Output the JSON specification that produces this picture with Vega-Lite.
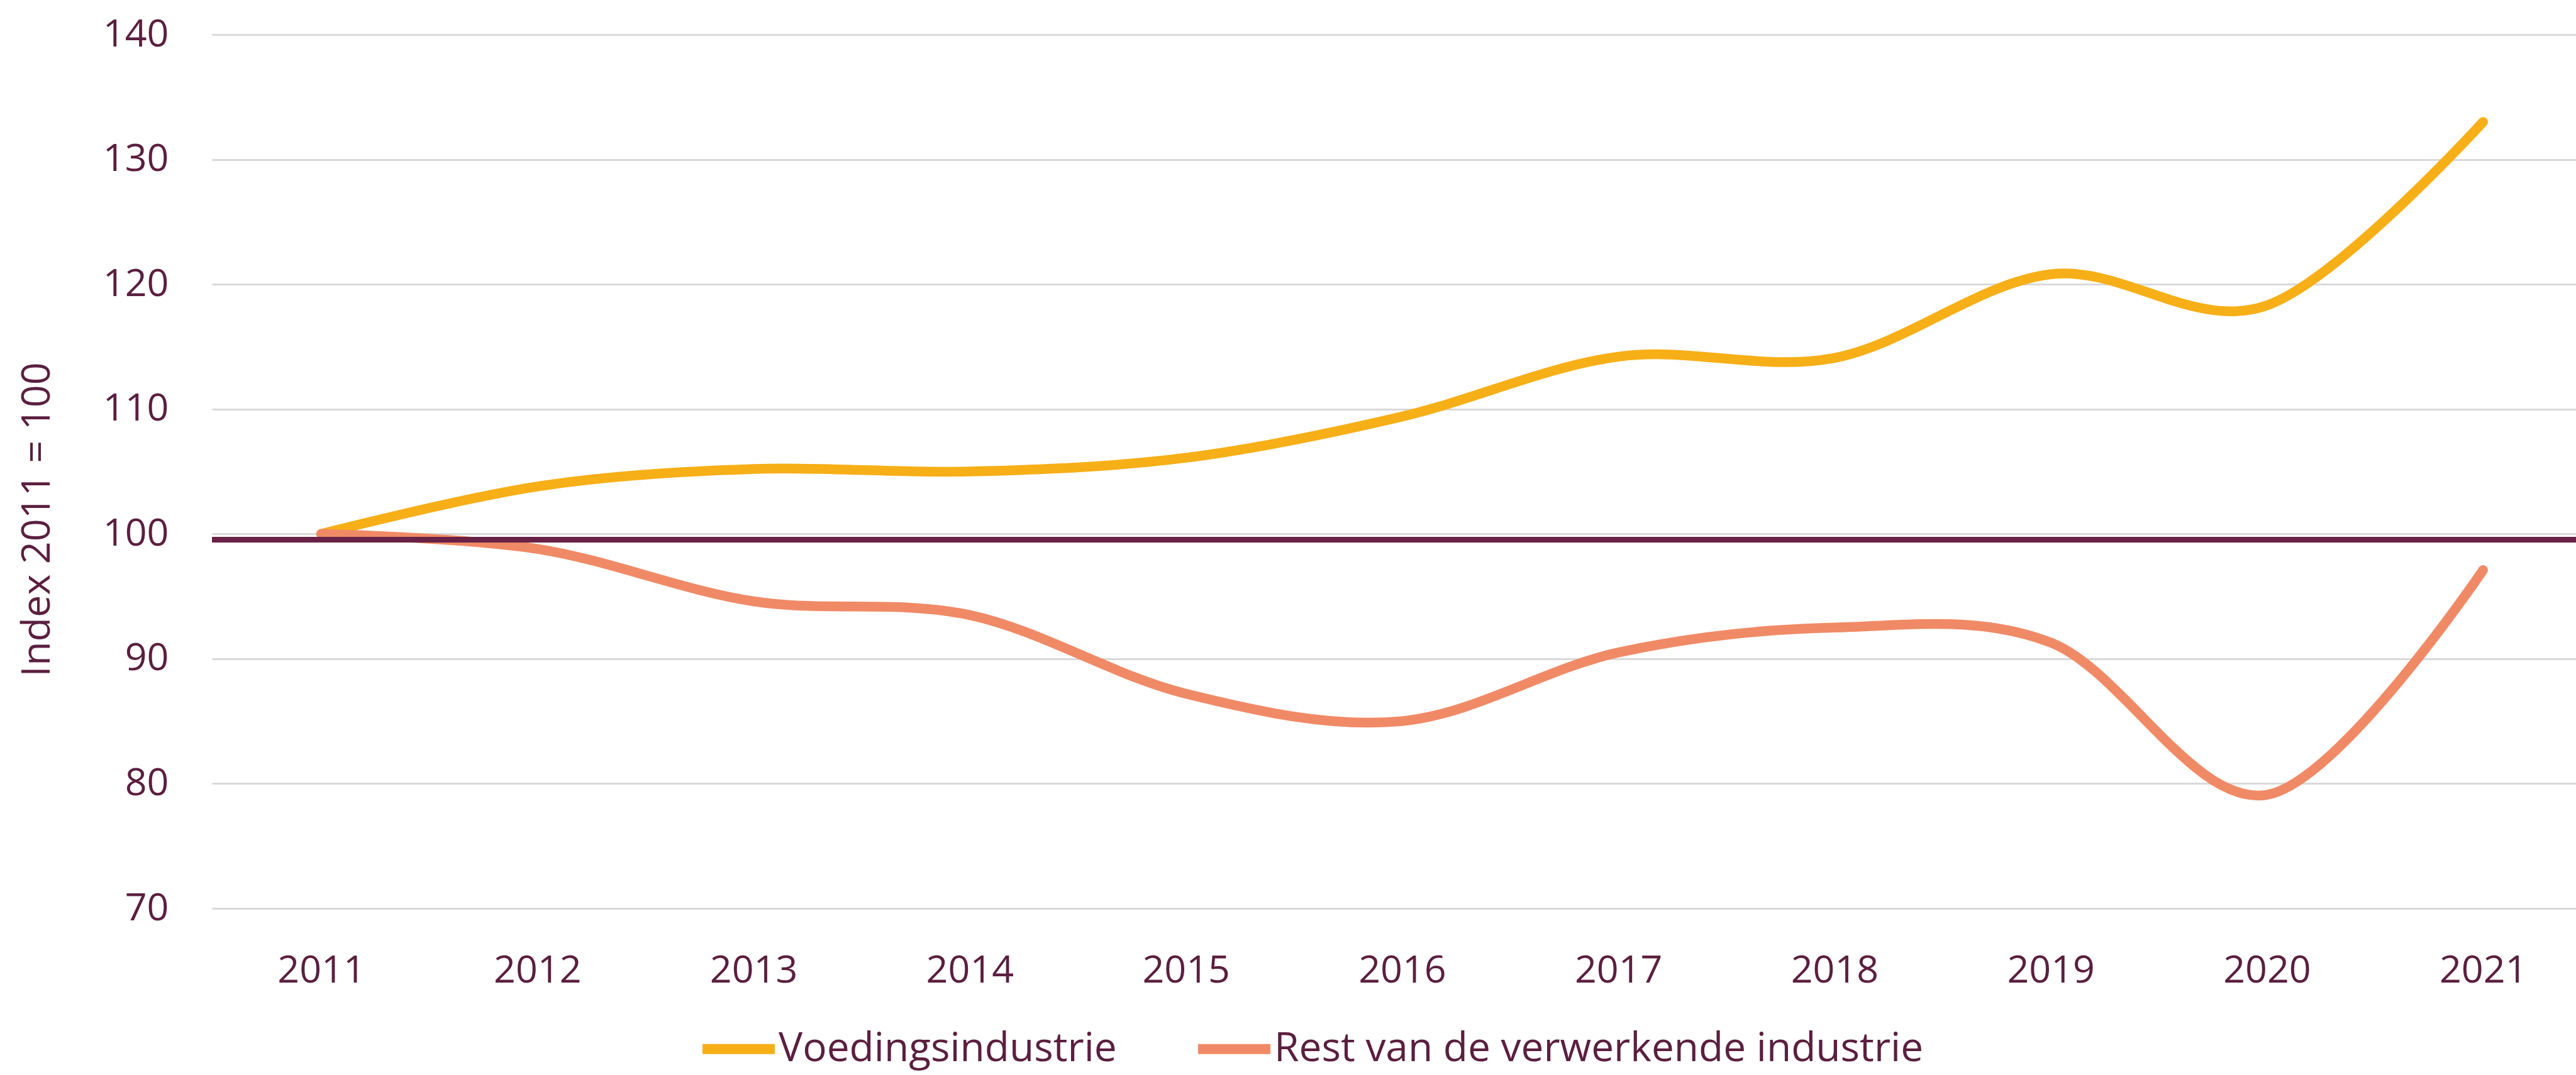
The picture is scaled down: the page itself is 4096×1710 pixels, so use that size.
{
  "$schema": "https://vega.github.io/schema/vega-lite/v6.json",
  "width": 3759,
  "height": 1390,
  "autosize": {"type": "none"},
  "padding": {"left": 337, "top": 55, "right": 0, "bottom": 265},
  "background": "white",
  "config": {"view": {"stroke": null}, "font": "Open Sans"},
  "data": {
    "values": [
      {"year": 2011, "series": "Voedingsindustrie", "index": 100.0},
      {"year": 2012, "series": "Voedingsindustrie", "index": 103.8},
      {"year": 2013, "series": "Voedingsindustrie", "index": 105.2},
      {"year": 2014, "series": "Voedingsindustrie", "index": 105.0},
      {"year": 2015, "series": "Voedingsindustrie", "index": 106.1},
      {"year": 2016, "series": "Voedingsindustrie", "index": 109.4},
      {"year": 2017, "series": "Voedingsindustrie", "index": 114.2},
      {"year": 2018, "series": "Voedingsindustrie", "index": 114.1},
      {"year": 2019, "series": "Voedingsindustrie", "index": 120.8},
      {"year": 2020, "series": "Voedingsindustrie", "index": 118.3},
      {"year": 2021, "series": "Voedingsindustrie", "index": 133.0},
      {"year": 2011, "series": "Rest van de verwerkende industrie", "index": 100.0},
      {"year": 2012, "series": "Rest van de verwerkende industrie", "index": 98.8},
      {"year": 2013, "series": "Rest van de verwerkende industrie", "index": 94.6},
      {"year": 2014, "series": "Rest van de verwerkende industrie", "index": 93.5},
      {"year": 2015, "series": "Rest van de verwerkende industrie", "index": 87.2},
      {"year": 2016, "series": "Rest van de verwerkende industrie", "index": 85.0},
      {"year": 2017, "series": "Rest van de verwerkende industrie", "index": 90.5},
      {"year": 2018, "series": "Rest van de verwerkende industrie", "index": 92.5},
      {"year": 2019, "series": "Rest van de verwerkende industrie", "index": 91.3},
      {"year": 2020, "series": "Rest van de verwerkende industrie", "index": 79.1},
      {"year": 2021, "series": "Rest van de verwerkende industrie", "index": 97.1}
    ]
  },
  "layer": [
    {
      "mark": {"type": "line", "interpolate": "cardinal", "tension": 0, "strokeWidth": 15.5, "strokeCap": "round", "strokeJoin": "round"},
      "encoding": {
        "x": {
          "field": "year", "type": "quantitative",
          "scale": {"domain": [2010.495, 2021.43], "nice": false, "zero": false},
          "axis": {
            "values": [2011, 2012, 2013, 2014, 2015, 2016, 2017, 2018, 2019, 2020, 2021],
            "format": "d", "title": null, "grid": false, "domain": false, "ticks": false, "tickSize": 0,
            "labelFlush": false, "labelFontSize": 61, "labelColor": "#5b1f3f",
            "labelBaseline": "alphabetic", "labelPadding": 117
          }
        },
        "y": {
          "field": "index", "type": "quantitative",
          "scale": {"domain": [70, 140], "nice": false, "zero": false},
          "axis": {
            "values": [70, 80, 90, 100, 110, 120, 130, 140],
            "grid": true, "gridColor": "#d9d9d9", "gridWidth": 3,
            "domain": false, "ticks": false, "tickSize": 0,
            "labelFontSize": 61, "labelColor": "#5b1f3f", "labelPadding": 69, "labelBaseline": "middle",
            "title": "Index 2011 = 100", "titleFontSize": 63, "titleFontWeight": "normal", "titleColor": "#5b1f3f",
            "titleAngle": -90, "titleX": -278, "titleY": 771, "titleAlign": "center", "titleBaseline": "middle"
          }
        },
        "color": {
          "field": "series", "type": "nominal",
          "scale": {"domain": ["Voedingsindustrie", "Rest van de verwerkende industrie"], "range": ["#f6af17", "#f08a66"]},
          "legend": {
            "orient": "none", "legendX": 772, "legendY": 1548, "direction": "horizontal",
            "title": null, "symbolType": "stroke", "symbolSize": 13225, "symbolStrokeWidth": 16,
            "labelFontSize": 64, "labelColor": "#5b1f3f", "labelOffset": -2, "columnPadding": 97,
            "padding": 0, "labelLimit": 0
          }
        }
      }
    },
    {
      "mark": {"type": "rule", "color": "#6a2146", "strokeWidth": 8},
      "encoding": {"y": {"datum": 99.55}}
    }
  ]
}
